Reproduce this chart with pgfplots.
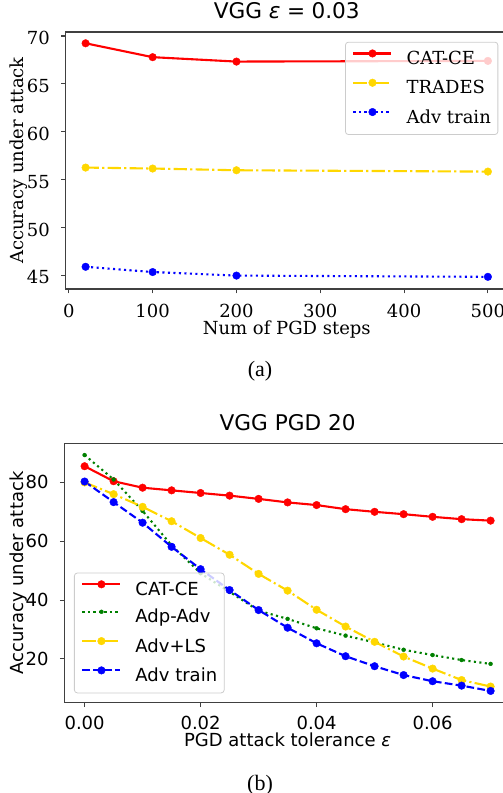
\documentclass[border=0pt]{standalone}
\usepackage{fontspec}
\usepackage{pgfplots}
\pgfplotsset{compat=1.18}
\newfontfamily\dvsans{DejaVu Sans}
\newfontfamily\dvserif{DejaVu Serif}
\newfontfamily\timesf{Liberation Serif}
\definecolor{cred}{RGB}{255,0,0}
\definecolor{cgold}{RGB}{255,215,0}
\definecolor{cblue}{RGB}{0,0,255}
\definecolor{cgreen}{RGB}{0,128,0}

\pgfplotsset{
  common/.style={
    scale only axis,
    axis line style={black!75, line width=1.1bp},
    tick style={black!75, line width=1.1bp},
    major tick length=4.5bp,
    tick align=outside,
    tick pos=left,
    /pgf/number format/assume math mode=true,
    legend cell align=left,
    legend image code/.code={%
      \draw[mark repeat=2, mark phase=2, opacity=1, ##1]
        plot coordinates {(0bp,6.5bp) (19bp,6.5bp) (38bp,6.5bp)};},
    legend style={draw=black!20, line width=0.8bp, fill=white,
      fill opacity=0.8, text opacity=1, rounded corners=3bp,
      inner xsep=7bp, inner ysep=7.5bp, row sep=10.5bp,
      nodes={inner sep=0pt, text height=13bp, text depth=4bp},
      /tikz/every odd column/.append style={column sep=14bp}},
  },
  redline/.style={color=cred, line width=2.1bp, solid, mark=*,
    mark size=3.8bp, mark options={solid, line width=0.4bp}},
  goldline/.style={color=cgold, line width=2.1bp,
    dash pattern=on 13.3bp off 3.3bp on 2.1bp off 3.3bp, mark=*,
    mark size=3.8bp, mark options={solid, line width=0.4bp}},
  bluedot/.style={color=cblue, line width=2.1bp,
    dash pattern=on 2.1bp off 3.4bp, mark=*,
    mark size=3.8bp, mark options={solid, line width=0.4bp}},
  bluedash/.style={color=cblue, line width=2.1bp,
    dash pattern=on 7.7bp off 3.3bp, mark=*,
    mark size=3.8bp, mark options={solid, line width=0.4bp}},
  greendot/.style={color=cgreen, line width=2.1bp,
    dash pattern=on 2.1bp off 3.4bp, mark=*,
    mark size=2bp, mark options={solid, line width=0.3bp}},
}

\begin{document}
\begin{tikzpicture}
% (a) accuracy vs number of PGD steps
\begin{axis}[common,
  at={(65.5bp,504bp)}, anchor=south west,
  width=442.5bp, height=257bp,
  xmin=-4, xmax=524, ymin=43.58, ymax=70.42,
  xtick={0,100,...,500}, ytick={45,50,...,70},
  tick label style={font=\dvserif\fontsize{18bp}{22bp}\selectfont},
  xticklabel style={anchor=base, inner sep=0pt, yshift=-24.3bp},
  yticklabel style={anchor=east, inner sep=0pt, xshift=-11bp, yshift=-2bp},
  title={VGG {\itshape ε}\hspace{0.3em}=\hspace{0.3em}0.03},
  title style={font=\dvsans\fontsize{21.6bp}{26bp}\selectfont,
    at={(0.5,1)}, anchor=base, yshift=8bp, inner sep=0pt},
  xlabel={Num of PGD steps}, ylabel={Accuracy under attack},
  label style={font=\dvserif\fontsize{18bp}{22bp}\selectfont, inner sep=0pt},
  xlabel style={at={(axis description cs:0.5,0)}, anchor=base, yshift=-46bp},
  ylabel style={at={(axis description cs:-0.0958,0.5)}, anchor=base},
  legend style={font=\dvserif\fontsize{18bp}{22bp}\selectfont,
    at={(0.978,0.962)}, anchor=north east},
]
\addplot[redline] coordinates {(20,69.24) (100,67.79) (200,67.33) (500,67.40)};
\addlegendentry{CAT-CE}
\addplot[goldline] coordinates {(20,56.26) (100,56.16) (200,55.98) (500,55.84)};
\addlegendentry{TRADES}
\addplot[bluedot] coordinates {(20,45.90) (100,45.35) (200,44.98) (500,44.85)};
\addlegendentry{Adv train}
\end{axis}

% (b) accuracy vs PGD attack tolerance
\begin{axis}[common,
  at={(64.3bp,90.3bp)}, anchor=south west,
  width=446.6bp, height=259.4bp,
  xmin=-0.0035, xmax=0.0735, ymin=5.1, ymax=93.3,
  xtick={0,0.02,0.04,0.06}, ytick={20,40,60,80},
  scaled x ticks=false,
  tick label style={font=\dvsans\fontsize{18bp}{22bp}\selectfont},
  xticklabel style={/pgf/number format/.cd, fixed, fixed zerofill, precision=2,
    /tikz/.cd, anchor=base, inner sep=0pt, yshift=-22.3bp},
  yticklabel style={anchor=east, inner sep=0pt, xshift=-11bp},
  title={VGG PGD 20},
  title style={font=\dvsans\fontsize{21.6bp}{26bp}\selectfont,
    at={(0.5,1)}, anchor=base, yshift=6.6bp, inner sep=0pt},
  xlabel={PGD attack tolerance {\itshape ε}}, ylabel={Accuracy under attack},
  label style={font=\dvsans\fontsize{18bp}{22bp}\selectfont, inner sep=0pt},
  xlabel style={at={(axis description cs:0.5,0)}, anchor=base, yshift=-44bp},
  ylabel style={at={(axis description cs:-0.0907,0.5)}, anchor=base},
  legend style={font=\dvsans\fontsize{18bp}{22bp}\selectfont,
    at={(0.0217,0.0362)}, anchor=south west},
]
\addplot[redline] coordinates {
  (0,85.5) (0.005,80.4) (0.01,78.2) (0.015,77.3) (0.02,76.4) (0.025,75.5)
  (0.03,74.4) (0.035,73.2) (0.04,72.3) (0.045,70.9) (0.05,70.0) (0.055,69.2)
  (0.06,68.3) (0.065,67.5) (0.07,67.0)};
\addlegendentry{CAT-CE}
\addplot[greendot] coordinates {
  (0,89.3) (0.005,81.0) (0.01,70.3) (0.015,58.6) (0.02,49.1) (0.025,42.8)
  (0.03,36.4) (0.035,33.6) (0.04,30.4) (0.045,27.9) (0.05,25.6) (0.055,23.1)
  (0.06,21.3) (0.065,19.6) (0.07,18.3)};
\addlegendentry{Adp-Adv}
\addplot[goldline] coordinates {
  (0,80.0) (0.005,76.0) (0.01,71.7) (0.015,66.8) (0.02,61.1) (0.025,55.4)
  (0.03,48.9) (0.035,43.2) (0.04,36.7) (0.045,31.0) (0.05,25.8) (0.055,20.8)
  (0.06,16.7) (0.065,12.8) (0.07,10.6)};
\addlegendentry{Adv+LS}
\addplot[bluedash] coordinates {
  (0,80.3) (0.005,73.3) (0.01,66.3) (0.015,58.1) (0.02,50.5) (0.025,43.4)
  (0.03,36.6) (0.035,30.6) (0.04,25.3) (0.045,20.9) (0.05,17.5) (0.055,14.5)
  (0.06,12.4) (0.065,10.9) (0.07,9.1)};
\addlegendentry{Adv train}
\end{axis}

\node[font=\timesf\fontsize{22bp}{26bp}\selectfont, anchor=base, inner sep=0pt]
  at (260bp,416.9bp) {(a)};
\node[font=\timesf\fontsize{22bp}{26bp}\selectfont, anchor=base, inner sep=0pt]
  at (260bp,2.1bp) {(b)};

\pgfresetboundingbox
\path[use as bounding box] (0bp,0bp) rectangle (503bp,793bp);
\end{tikzpicture}
\end{document}
